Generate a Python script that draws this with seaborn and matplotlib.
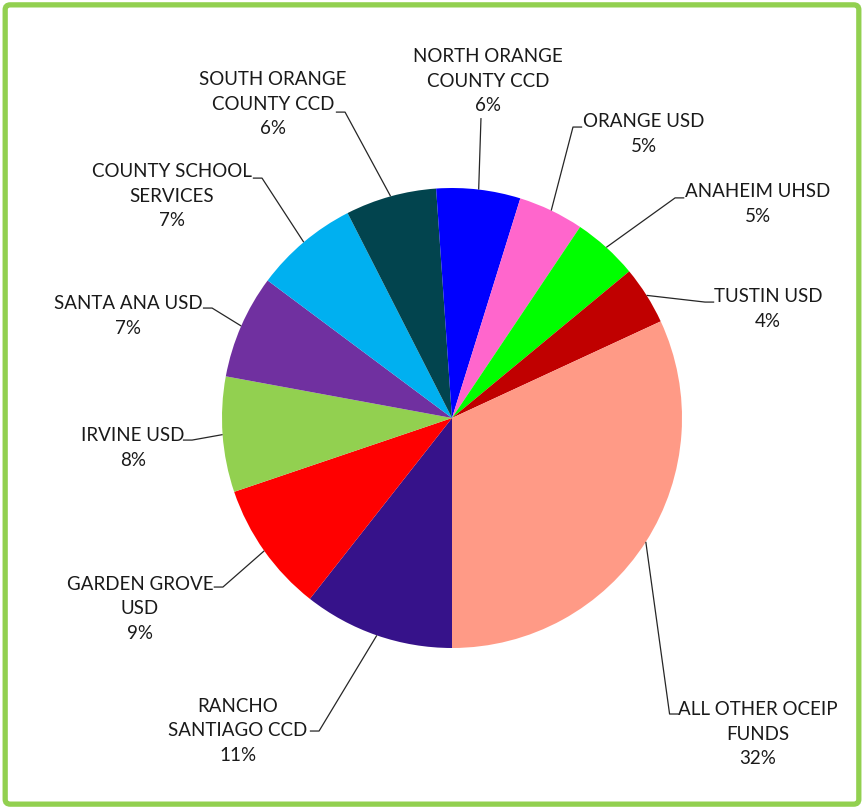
import numpy as np
import seaborn as sns
import matplotlib.pyplot as plt
from matplotlib.patches import FancyBboxPatch

# data (percent of total)
districts = ["RANCHO\nSANTIAGO CCD", "GARDEN GROVE\nUSD", "IRVINE USD", "SANTA ANA USD",
             "COUNTY SCHOOL\nSERVICES", "SOUTH ORANGE\nCOUNTY CCD", "NORTH ORANGE\nCOUNTY CCD",
             "ORANGE USD", "ANAHEIM UHSD", "TUSTIN USD", "ALL OTHER OCEIP\nFUNDS"]
shares = [10.6, 9.2, 8.1, 7.3, 7.3, 6.4, 5.9, 4.6, 4.6, 4.1, 31.9]
colors = ["#36128A", "#FF0000", "#92D050", "#7030A0", "#00B0F0", "#02444E",
          "#0000FF", "#FF66CC", "#00FF00", "#C00000", "#FF9A86"]

# label block centres and leader elbows, in pie-radius units
label_xy = [(-0.93, -1.36), (-1.357, -0.83), (-1.387, -0.13), (-1.409, 0.443),
            (-1.217, 0.965), (-0.778, 1.365), (0.157, 1.465), (0.835, 1.235),
            (1.33, 0.93), (1.374, 0.474), (1.33, -1.374)]
elbow_xy = [(-0.578, -1.361), (-0.996, -0.735), (-1.13, -0.096), (-1.043, 0.478),
            (-0.826, 1.043), (-0.465, 1.330), (0.126, 1.304), (0.526, 1.265),
            (0.970, 0.957), (1.100, 0.504), (0.946, -1.287)]

sns.set_theme(style="white")
plt.rcParams['font.family'] = ['Lato', 'DejaVu Sans']

fig = plt.figure(figsize=(8.64, 8.09), dpi=100)
ax = fig.add_axes([0, 0, 1, 1])

wedges, _ = ax.pie(shares, colors=colors, startangle=-90, counterclock=False,
                   radius=1.0, center=(0, 0), frame=True,
                   wedgeprops=dict(linewidth=0))
ax.set_xlim(-452 / 230, (864 - 452) / 230)
ax.set_ylim(-(809 - 418) / 230, 418 / 230)
ax.set_aspect("auto")
ax.axis("off")

total = sum(shares)
for w, name, val, lxy, exy in zip(wedges, districts, shares, label_xy, elbow_xy):
    mid = np.deg2rad((w.theta1 + w.theta2) / 2)
    sx, sy = np.cos(mid), np.sin(mid)
    ex, ey = exy
    if name.startswith("NORTH"):
        xs, ys = [sx, ex], [sy, ey]
    else:
        side = 1 if ex > 0 else -1
        xs, ys = [sx, ex, ex + side * 0.04], [sy, ey, ey]
    ax.plot(xs, ys, color="#262626", lw=0.9, solid_capstyle="butt")
    pct = round(val / total * 100)
    ax.text(lxy[0], lxy[1], f"{name}\n{pct}%", ha="center", va="center",
            fontsize=13.5, color="#1a1a1a", linespacing=1.55)

border = FancyBboxPatch((0.006, 0.006), 0.988, 0.988, boxstyle="round,pad=0,rounding_size=0.006",
                        transform=fig.transFigure, fill=False, edgecolor="#92D050", linewidth=3.8)
fig.patches.append(border)

fig.savefig("out.png", dpi=100)
